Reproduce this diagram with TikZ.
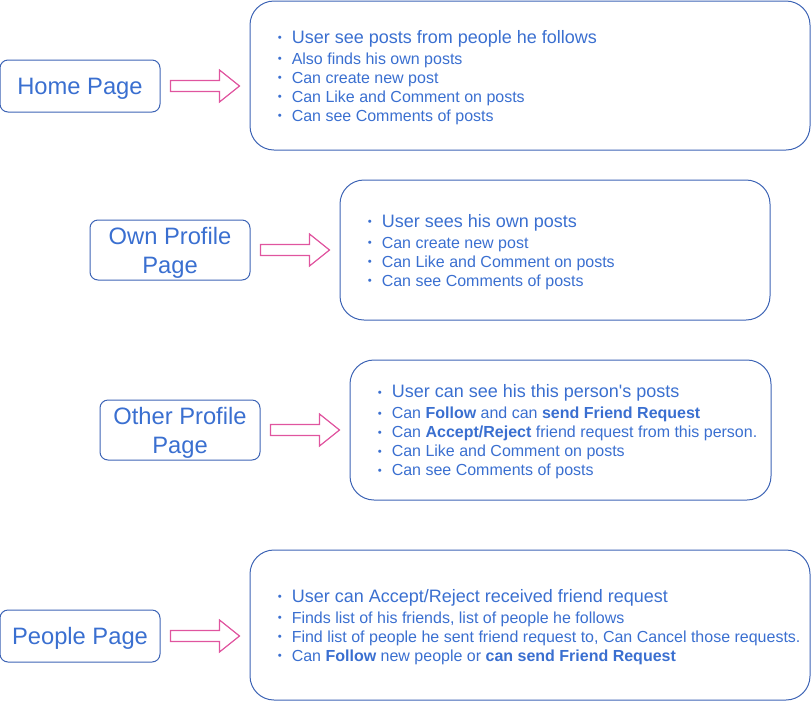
\documentclass[tikz,border=0pt]{standalone}
\usepackage{fontspec}
\setmainfont{Liberation Sans}
\usetikzlibrary{calc,positioning}
\definecolor{pageblue}{HTML}{3A6FD0}
\definecolor{pageline}{HTML}{3D64B5}
\definecolor{pagepink}{HTML}{E0559F}
% small bullet in front of each line
\newcommand\itm{\makebox[10.5pt][l]{\raisebox{1.2pt}{\fontsize{8.5}{8.5}\selectfont\textbullet}}}
\newcommand\bigitm[1]{{\fontsize{13.5}{14.25}\selectfont\itm#1}\\[1.6pt]}
% hollow arrow from a page box to its list
\newcommand\hollowarrow[2]{%
\draw[pagearrow] let \p1=(#1.east), \p2=(#2.west) in
(\x1+7.5pt,\y1+4.1pt) -- (\x2-22.5pt,\y1+4.1pt) -- (\x2-22.5pt,\y1+12pt) -- (\x2-7.5pt,\y1)
-- (\x2-22.5pt,\y1-12pt) -- (\x2-22.5pt,\y1-4.1pt) -- (\x1+7.5pt,\y1-4.1pt) -- cycle;}

\begin{document}
\begin{tikzpicture}[x=0.75pt,y=-0.75pt,
pagebox/.style={draw=pageline,line width=0.75pt,rounded corners=6pt,minimum width=120pt,inner sep=0pt,
  text=pageblue,align=center,text depth=0pt,font=\fontsize{17.8}{21.75}\selectfont},
infobox/.style={draw=pageline,line width=0.75pt,rounded corners=18pt,inner sep=0pt},
listtext/.style={right=21pt of #1,yshift=-1.5pt,inner sep=0pt,text=pageblue,align=left,
  font=\fontsize{12}{14.25}\selectfont},
pagearrow/.style={draw=pagepink,line width=0.9pt,line join=miter}]
\useasboundingbox (0,0) rectangle (811,701);
% home
\node[pagebox,minimum height=39pt] (home) at (80,86) {Home Page};
\node[infobox,minimum width=420pt,minimum height=111.75pt] (homeinfo) at (530,75.5) {};
\node[listtext=homeinfo.west] (homelist) {%
\bigitm{User see posts from people he follows}
\itm Also finds his own posts\\
\itm Can create new post\\
\itm Can Like and Comment on posts\\
\itm Can see Comments of posts};
\hollowarrow{home}{homeinfo}
% own profile
\node[pagebox,minimum height=45pt] (ownprofile) at (170,250) {Own Profile\\Page};
\node[infobox,minimum width=322.5pt,minimum height=105pt] (owninfo) at (555,250) {};
\node[listtext=owninfo.west] (ownlist) {%
\bigitm{User sees his own posts}
\itm Can create new post\\
\itm Can Like and Comment on posts\\
\itm Can see Comments of posts};
\hollowarrow{ownprofile}{owninfo}
% other profile
\node[pagebox,minimum height=45pt] (otherprofile) at (180,430) {Other Profile\\Page};
\node[infobox,minimum width=315.75pt,minimum height=105pt] (otherinfo) at (560.5,430) {};
\node[listtext=otherinfo.west] (otherlist) {%
\bigitm{User can see his this person\textquotesingle s posts}
\itm Can \textbf{Follow} and can \textbf{send Friend Request}\\
\itm Can \textbf{Accept/Reject} friend request from this person.\\
\itm Can Like and Comment on posts\\
\itm Can see Comments of posts};
\hollowarrow{otherprofile}{otherinfo}
% people
\node[pagebox,minimum height=39pt] (people) at (80,636) {People Page};
\node[infobox,minimum width=420pt,minimum height=112.5pt] (peopleinfo) at (530,625) {};
\node[listtext=peopleinfo.west] (peoplelist) {%
\bigitm{User can Accept/Reject received friend request}
\itm Finds list of his friends, list of people he follows\\
\itm Find list of people he sent friend request to, Can Cancel those requests.\\
\itm Can \textbf{Follow} new people or \textbf{can send Friend Request}};
\hollowarrow{people}{peopleinfo}
\end{tikzpicture}
\end{document}
